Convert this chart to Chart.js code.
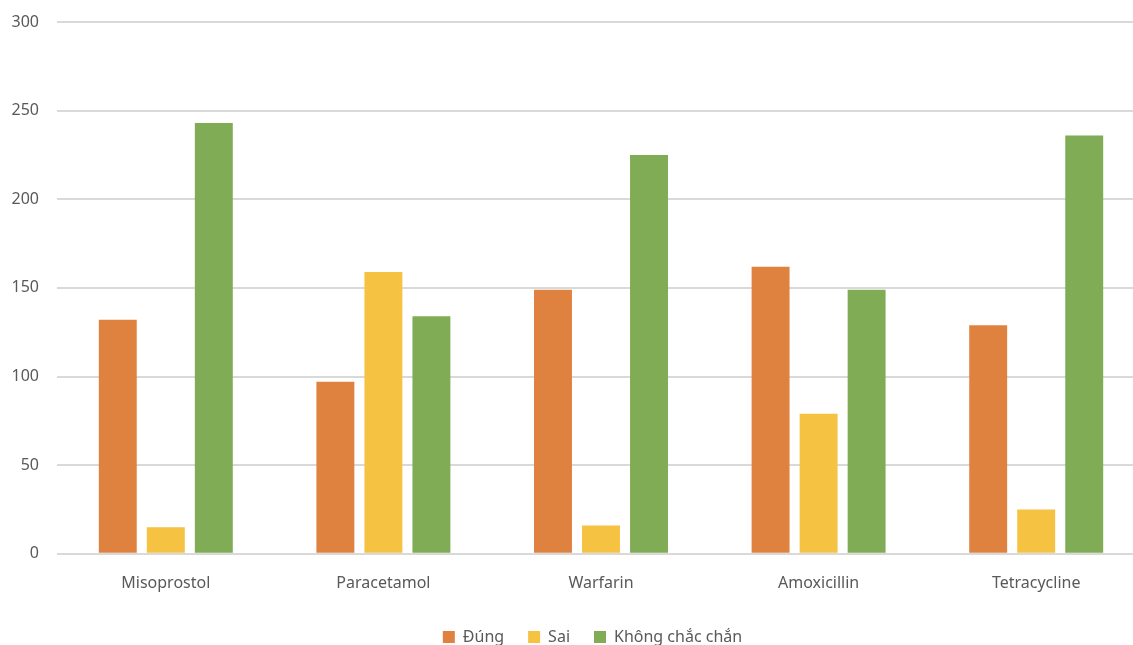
<!DOCTYPE html>
<html>
<head>
<meta charset="utf-8">
<script src="https://cdn.jsdelivr.net/npm/chart.js@4"></script>
<style>
  html, body { margin: 0; padding: 0; background: #fff; overflow: hidden; }
  #wrap { width: 1184px; height: 655px; }
</style>
</head>
<body>
<div id="wrap"><canvas id="myChart" width="1184" height="655"></canvas></div>
<script>
// du lieu doc tu hinh
const thuoc = ['Misoprostol', 'Paracetamol', 'Warfarin', 'Amoxicillin', 'Tetracycline'];
const dung = [132, 97, 149, 162, 129];
const sai = [15, 159, 16, 79, 25];
const khongChac = [243, 134, 225, 149, 236];
const yTicks = [0, 50, 100, 150, 200, 250, 300];

const ctx = document.getElementById('myChart');
const chu = '#595959';

// day chu thich sang phai mot chut (giong hinh goc)
const dichLegend = {
  id: 'dichLegend',
  afterLayout(chart) {
    chart.legend.left += 20;
    chart.legend.right += 20;
  }
};

new Chart(ctx, {
  type: 'bar',
  data: {
    labels: thuoc,
    datasets: [
      { label: 'Đúng', data: dung, backgroundColor: '#E0823F' },
      { label: 'Sai', data: sai, backgroundColor: '#F5C242' },
      { label: 'Không chắc chắn', data: khongChac, backgroundColor: '#7FAC55' }
    ]
  },
  plugins: [dichLegend],
  options: {
    responsive: false,
    animation: false,
    layout: { padding: { top: 22, right: 39, left: 0, bottom: 0 } },
    datasets: { bar: { categoryPercentage: 0.662, barPercentage: 0.79 } },
    plugins: {
      tooltip: { enabled: false },
      legend: {
        position: 'bottom',
        labels: {
          color: chu,
          font: { family: 'Noto Sans', size: 16 },
          boxWidth: 12,
          boxHeight: 12,
          padding: 24
        }
      }
    },
    scales: {
      x: {
        grid: { display: false },
        border: { display: false },
        ticks: { color: chu, font: { family: 'Noto Sans', size: 16 }, padding: 12 }
      },
      y: {
        min: 0,
        max: 300,
        afterFit: (s) => { s.width = 57; s.paddingTop = 0; },
        afterBuildTicks: (s) => { s.ticks = yTicks.map(v => ({ value: v })); },
        grid: { color: '#D9D9D9', lineWidth: 2, drawTicks: false },
        border: { display: false },
        ticks: { color: chu, font: { family: 'Noto Sans', size: 16 }, padding: 18 }
      }
    }
  }
});
</script>
</body>
</html>
